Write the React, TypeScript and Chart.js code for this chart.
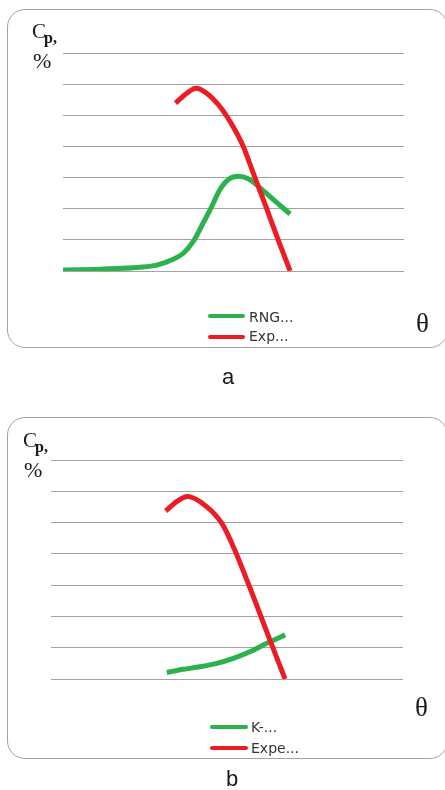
import React, { useEffect, useRef } from "react";
import { Chart, registerables } from "chart.js";

Chart.register(...registerables);

// ---------- data ----------
const GREEN = "#2bb24c";
const RED = "#ed1c24";

// panel a
const aRngLabel = "RNG...";
const aRngX = [0, 10.9, 22.6, 27.5, 32.3, 35.3, 38.2, 41.1, 43.6, 46.0, 48.5, 51.4, 54.3, 57.8, 61.7, 66.6];
const aRngY = [0.03, 0.06, 0.12, 0.19, 0.38, 0.57, 0.95, 1.54, 2.07, 2.61, 2.94, 3.04, 2.96, 2.67, 2.29, 1.83];
const aExpLabel = "Exp...";
const aExpX = [33.0, 36.3, 39.0, 42.1, 46.0, 49.9, 52.9, 55.8, 59.7, 63.1, 66.6];
const aExpY = [5.39, 5.71, 5.87, 5.71, 5.28, 4.63, 3.99, 3.14, 2.01, 1.0, 0];

// panel b
const bKLabel = "K-...";
const bKX = [32.9, 37.6, 42.3, 47.1, 51.8, 56.5, 61.3, 66.5];
const bKY = [0.21, 0.31, 0.39, 0.5, 0.66, 0.87, 1.14, 1.41];
const bExpLabel = "Expe...";
const bExpX = [32.6, 35.7, 38.8, 44.2, 48.5, 51.8, 57.5, 62.2, 66.5];
const bExpY = [5.37, 5.67, 5.83, 5.51, 4.98, 4.23, 2.63, 1.24, 0];

// axes
const Y_MIN = 0;
const Y_MAX = 7;
const Y_STEP = 1;
const X_MIN = 0;
const X_MAX = 100;

const SERIF = "'Liberation Serif', 'Times New Roman', serif";
const SANS = "'DejaVu Sans', sans-serif";
const CAPTION_FONT = "'Liberation Sans', Arial, sans-serif";

type Series = { label: string; color: string; xs: number[]; ys: number[]; order: number };

function Txt(props: {
  x: number;
  base: number;
  size: number;
  family: string;
  center?: boolean;
  color?: string;
  weight?: number;
  children: React.ReactNode;
}) {
  const { x, base, size, family, center, color, weight, children } = props;
  const top = base - 0.84 * size;
  return (
    <span
      style={{
        position: "absolute",
        left: center ? x - 50 : x,
        width: center ? 100 : undefined,
        textAlign: center ? "center" : undefined,
        top,
        fontSize: size,
        fontWeight: weight || 400,
        lineHeight: 1,
        fontFamily: family,
        whiteSpace: "nowrap",
        color: color || "#1a1a1a",
      }}
    >
      {children}
    </span>
  );
}

function Panel(props: {
  top: number;
  boxTop: number;
  boxHeight: number;
  pad: { left: number; right: number; top: number; bottom: number };
  series: Series[];
  cp: { x: number; base: number };
  theta: { x: number; base: number };
  legend: { x: number; text: number; y0: number; y1: number; base0: number; base1: number; w: number };
  caption: { text: string; x: number; base: number };
}) {
  const ref = useRef<HTMLCanvasElement | null>(null);
  const { top, series, pad } = props;

  useEffect(() => {
    if (!ref.current) return;
    const chart = new Chart(ref.current, {
      type: "line",
      data: {
        datasets: series.map((s) => ({
          label: s.label,
          data: s.xs.map((x, i) => ({ x, y: s.ys[i] })),
          borderColor: s.color,
          backgroundColor: s.color,
          borderWidth: 5,
          pointRadius: 0,
          fill: false,
          cubicInterpolationMode: "monotone" as const,
          order: s.order,
        })),
      },
      options: {
        animation: false,
        responsive: false,
        maintainAspectRatio: false,
        devicePixelRatio: 1,
        layout: { padding: pad },
        plugins: { legend: { display: false }, tooltip: { enabled: false } },
        scales: {
          x: { type: "linear", min: X_MIN, max: X_MAX, display: false },
          y: {
            type: "linear",
            min: Y_MIN,
            max: Y_MAX,
            ticks: { display: false, stepSize: Y_STEP },
            grid: { color: "#a3a3a3", lineWidth: 1, drawTicks: false },
            border: { display: false },
          },
        },
      },
    });
    return () => chart.destroy();
  }, []);

  const { cp, theta, legend, caption } = props;
  const legendSeries = [...series].sort((a, b) => b.order - a.order);

  return (
    <>
      <div
        style={{
          position: "absolute",
          left: 7,
          top: props.boxTop,
          width: 441,
          height: props.boxHeight,
          boxSizing: "border-box",
          border: "1.5px solid #a3a3a3",
          borderRadius: 18,
          background: "#fff",
        }}
      />
      <canvas
        ref={ref}
        width={445}
        height={390}
        style={{ position: "absolute", left: 0, top, width: 445, height: 390 }}
      />
      <Txt x={cp.x} base={cp.base} size={21} family={SERIF}>C</Txt>
      <Txt x={cp.x + 12} base={cp.base + 4.5} size={16} family={SERIF} weight={700}>p,</Txt>
      <Txt x={cp.x + 1} base={cp.base + 29} size={22} family={SERIF}>%</Txt>
      <Txt x={theta.x} base={theta.base} size={27} family={SERIF}>θ</Txt>
      {legendSeries.map((s, i) => (
        <React.Fragment key={s.label}>
          <div
            style={{
              position: "absolute",
              left: legend.x,
              top: (i === 0 ? legend.y0 : legend.y1) - 2,
              width: legend.w,
              height: 4,
              borderRadius: 2,
              background: s.color,
            }}
          />
          <Txt x={legend.text} base={i === 0 ? legend.base0 : legend.base1} size={14} family={SANS} color="#333">
            {s.label}
          </Txt>
        </React.Fragment>
      ))}
      <Txt x={caption.x} base={caption.base} size={22} family={CAPTION_FONT} center>
        {caption.text}
      </Txt>
    </>
  );
}

export default function App() {
  const seriesA: Series[] = [
    { label: aRngLabel, color: GREEN, xs: aRngX, ys: aRngY, order: 1 },
    { label: aExpLabel, color: RED, xs: aExpX, ys: aExpY, order: 0 },
  ];
  const seriesB: Series[] = [
    { label: bKLabel, color: GREEN, xs: bKX, ys: bKY, order: 1 },
    { label: bExpLabel, color: RED, xs: bExpX, ys: bExpY, order: 0 },
  ];
  return (
    <div
      style={{
        position: "absolute",
        left: 0,
        top: 0,
        width: 445,
        height: 790,
        overflow: "hidden",
        background: "#fff",
      }}
    >
      <Panel
        top={0}
        boxTop={9}
        boxHeight={339}
        pad={{ left: 63, right: 41, top: 53, bottom: 119 }}
        series={seriesA}
        cp={{ x: 32, base: 39 }}
        theta={{ x: 416, base: 333 }}
        legend={{ x: 208, text: 249, w: 37, y0: 316, y1: 337, base0: 321.7, base1: 341 }}
        caption={{ text: "a", x: 228, base: 384 }}
      />
      <Panel
        top={400}
        boxTop={417}
        boxHeight={342}
        pad={{ left: 51, right: 42, top: 60, bottom: 111 }}
        series={seriesB}
        cp={{ x: 23, base: 448 }}
        theta={{ x: 415, base: 717 }}
        legend={{ x: 210, text: 251, w: 38, y0: 726.7, y1: 748.3, base0: 731.7, base1: 753 }}
        caption={{ text: "b", x: 232, base: 786.7 }}
      />
    </div>
  );
}
